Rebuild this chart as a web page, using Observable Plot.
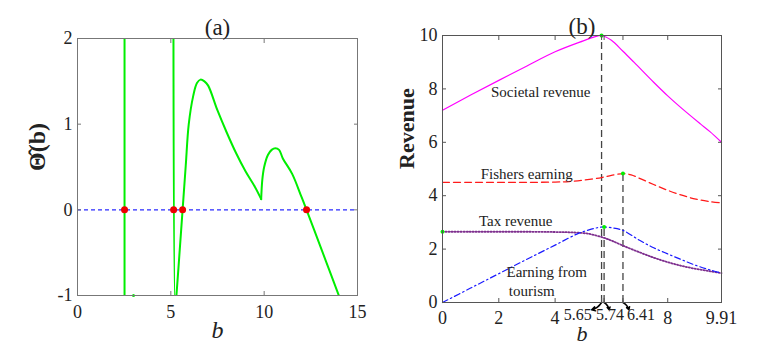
<!DOCTYPE html>
<html><head><meta charset="utf-8">
<script src="https://cdn.jsdelivr.net/npm/d3@7"></script>
<script src="https://cdn.jsdelivr.net/npm/@observablehq/plot@0.6"></script>
<style>
body{margin:0;background:#fff}
#wrap{display:flex;width:776px;height:363px;overflow:hidden}
#wrap svg text{font-family:'Liberation Serif','DejaVu Serif',serif}
</style>
</head><body><div id="wrap"></div>
<script>
// ---------- Panel (a) data ----------
const branch1B = [2.52, 2.52];
const branch1T = [-1.2, 2.2];
const branch2B = [5.14, 5.24, 5.3, 5.45, 5.63, 5.8, 5.96, 6.2, 6.4, 6.59, 6.8, 7.0, 7.5, 8.0, 8.5, 9.0, 9.5, 9.84];
const branch2T = [2.2, -1.15, -1.0, -0.55, 0, 0.52, 1.0, 1.33, 1.48, 1.52, 1.5, 1.45, 1.16, 0.9, 0.66, 0.45, 0.27, 0.125];
const branch3B = [9.84, 9.9, 10.0, 10.2, 10.4, 10.6, 10.8, 11.0, 11.5, 12.0, 12.27, 13.0, 13.5, 14.0, 14.1];
const branch3T = [0.125, 0.35, 0.5, 0.64, 0.7, 0.72, 0.7, 0.6, 0.42, 0.15, 0, -0.42, -0.71, -1.0, -1.06];
const strayB = [3.0], strayT = [-1.0];
const rootsB = [2.52, 5.15, 5.63, 12.27];
const ticksA_x = [0, 5, 10, 15];
const ticksA_y = [-1, 0, 1, 2];

// ---------- Panel (b) data ----------
const societalB = [0, 1, 2, 3, 4, 5, 5.4, 5.65, 6.0, 6.4, 6.8, 7.5, 8.0, 8.5, 9.16, 9.5, 9.91];
const societalR = [7.2, 7.77, 8.32, 8.86, 9.39, 9.8, 9.95, 10, 9.82, 9.42, 9.0, 8.25, 7.74, 7.27, 6.69, 6.4, 6.0];
const fishersB = [0, 1, 2, 3, 4, 4.5, 5, 5.65, 6.0, 6.41, 6.7, 7.0, 7.5, 8, 8.5, 9, 9.5, 9.91];
const fishersR = [4.5, 4.5, 4.5, 4.5, 4.51, 4.53, 4.58, 4.68, 4.76, 4.83, 4.78, 4.65, 4.42, 4.2, 4.02, 3.87, 3.78, 3.73];
const taxB = [0, 1, 2, 3, 4, 4.5, 5, 5.3, 5.74, 6.0, 6.41, 7, 7.5, 8, 8.5, 9, 9.5, 9.91];
const taxR = [2.65, 2.65, 2.65, 2.65, 2.64, 2.63, 2.6, 2.55, 2.42, 2.32, 2.13, 1.88, 1.68, 1.51, 1.37, 1.26, 1.17, 1.1];
const tourismB = [0, 1, 2, 3, 4, 4.79, 5.2, 5.5, 5.74, 6.0, 6.41, 7, 7.5, 8, 8.5, 9, 9.5, 9.91];
const tourismR = [0, 0.54, 1.08, 1.62, 2.15, 2.57, 2.72, 2.8, 2.83, 2.8, 2.7, 2.33, 2.05, 1.82, 1.6, 1.39, 1.22, 1.1];
const peakB = [5.65, 6.41, 5.74, 0];
const peakR = [10, 4.83, 2.83, 2.65];
const dropB = [5.65, 5.74, 6.41];
const dropTop = [10, 2.83, 4.83];
const arrowTo = [5.3, 5.92, 6.62];
const arrowDrop = -0.27;
const ticksB_x = [0, 2, 4, 5.65, 5.74, 6.41, 8, 9.91];
const ticksB_xLabelled = [0, 2, 4, 8, 9.91];
const specialTickLabels = ["5.65", "5.74", "6.41"];
const specialTickLabelPos = [4.8, 5.95, 7.05];
const ticksB_y = [0, 2, 4, 6, 8, 10];
const annoText = ["Societal revenue", "Fishers earning", "Tax revenue", "Earning from", "tourism"];
const annoB = [3.49, 2.99, 2.6, 3.7, 3.17];
const annoR = [7.87, 4.79, 3.04, 1.13, 0.41];

const FONT = "'Liberation Serif', 'DejaVu Serif', serif";
const TICKFONT = 18;
const zip = (xs, ys, extra = {}) => xs.map((x, i) => ({x, y: ys[i], ...extra}));
const fmt = d => String(d);

// ---------- Panel (a) ----------
const green = [
  ...zip(branch1B, branch1T, {k: 1}),
  ...zip(branch2B, branch2T, {k: 2}),
  ...zip(branch3B, branch3T, {k: 3})
];
const plotA = Plot.plot({
  width: 388, height: 363,
  marginLeft: 77, marginRight: 31, marginTop: 38, marginBottom: 68,
  style: {fontFamily: FONT, fontSize: "18px", background: "#fff", color: "#222"},
  x: {domain: [0, 15], label: null},
  y: {domain: [-1, 2], label: null},
  marks: [
    Plot.ruleY([0], {stroke: "#2a2aff", strokeDasharray: "4,3", strokeWidth: 1.2}),
    Plot.line(green, {x: "x", y: "y", z: "k", stroke: "#00ee00", strokeWidth: 2, clip: true, curve: "catmull-rom"}),
    Plot.dot(zip(strayB, strayT), {x: "x", y: "y", r: 1.5, fill: "#00ee00"}),
    Plot.dot(rootsB, {x: d => d, y: 0, r: 3.5, fill: "#ee0000"}),
    Plot.frame({stroke: "#777"}),
    Plot.axisX({anchor: "bottom", ticks: ticksA_x, tickSize: -4, tickPadding: 14, tickFormat: fmt, label: null, stroke: "#777", fontSize: TICKFONT, fontFamily: FONT}),
    Plot.axisX({anchor: "top", ticks: ticksA_x, tickSize: -4, tickFormat: () => "", label: null, stroke: "#777"}),
    Plot.axisY({anchor: "left", ticks: ticksA_y, tickSize: -4, tickPadding: 9, tickFormat: fmt, label: null, stroke: "#777", fontSize: TICKFONT, fontFamily: FONT}),
    Plot.axisY({anchor: "right", ticks: ticksA_y, tickSize: -4, tickFormat: () => "", label: null, stroke: "#777"}),
    Plot.text(["(a)"], {frameAnchor: "top", dy: -20, fontSize: 23}),
    Plot.text(["b"], {frameAnchor: "bottom", dy: 42, fontSize: 24, fontStyle: "italic"}),
    Plot.text(["Θ̂(b)"], {frameAnchor: "left", dx: -40, dy: 4, rotate: -90, fontSize: 24, fontWeight: "bold"})
  ]
});

// ---------- Panel (b) ----------
const plotB = Plot.plot({
  width: 388, height: 363,
  marginLeft: 54, marginRight: 55, marginTop: 35, marginBottom: 61,
  style: {fontFamily: FONT, fontSize: "18px", background: "#fff", color: "#222", overflow: "visible"},
  x: {domain: [0, 9.91], label: null},
  y: {domain: [0, 10], label: null},
  marks: [
    Plot.ruleX(dropB.map((b, i) => ({b, top: dropTop[i]})), {x: "b", y1: 0, y2: "top", stroke: "#444", strokeWidth: 1.3, strokeDasharray: "7,4"}),
    Plot.line(zip(societalB, societalR), {x: "x", y: "y", stroke: "#ff00ff", strokeWidth: 1.2, curve: "catmull-rom"}),
    Plot.line(zip(fishersB, fishersR), {x: "x", y: "y", stroke: "#ff1a1a", strokeWidth: 1.3, strokeDasharray: "7,4", curve: "catmull-rom"}),
    Plot.line(zip(taxB, taxR), {x: "x", y: "y", stroke: "#7e2f8e", strokeWidth: 1.8, strokeDasharray: "1.2,1.8", curve: "catmull-rom"}),
    Plot.line(zip(tourismB, tourismR), {x: "x", y: "y", stroke: "#1a1aff", strokeWidth: 1.2, strokeDasharray: "6,3,1.5,3", curve: "catmull-rom"}),
    Plot.dot(zip(peakB, peakR), {x: "x", y: "y", r: 2, fill: "#00ee00"}),
    Plot.arrow(dropB.map((b, i) => ({b, to: arrowTo[i]})), {x1: "b", y1: 0, x2: "to", y2: arrowDrop, bend: true, stroke: "#000", strokeWidth: 1.5, headLength: 6}),
    Plot.text(annoText.map((t, i) => ({t, x: annoB[i], y: annoR[i]})), {x: "x", y: "y", text: "t", fontSize: 15}),
    Plot.frame({stroke: "#555"}),
    Plot.axisX({anchor: "bottom", ticks: ticksB_xLabelled, tickSize: 0, tickPadding: 9, tickFormat: fmt, label: null, fontSize: TICKFONT, fontFamily: FONT}),
    Plot.axisX({anchor: "bottom", ticks: ticksB_x, tickSize: -4, tickFormat: () => "", label: null, stroke: "#555"}),
    Plot.axisX({anchor: "top", ticks: ticksB_x, tickSize: -4, tickFormat: () => "", label: null, stroke: "#555"}),
    Plot.text(specialTickLabels.map((t, i) => ({t, x: specialTickLabelPos[i]})), {x: "x", text: "t", frameAnchor: "bottom", dy: 17, fontSize: 16}),
    Plot.axisY({anchor: "left", ticks: ticksB_y, tickSize: -4, tickPadding: 9, tickFormat: fmt, label: null, stroke: "#555", fontSize: TICKFONT, fontFamily: FONT}),
    Plot.axisY({anchor: "right", ticks: ticksB_y, tickSize: -4, tickFormat: () => "", label: null, stroke: "#555"}),
    Plot.text(["(b)"], {frameAnchor: "top", dy: -18, fontSize: 23}),
    Plot.text(["b"], {frameAnchor: "bottom", dy: 38, fontSize: 22, fontStyle: "italic"}),
    Plot.text(["Revenue"], {frameAnchor: "left", dx: -36, rotate: -90, fontSize: 22, fontWeight: "bold"})
  ]
});

document.getElementById("wrap").append(plotA, plotB);
</script>
</body></html>
